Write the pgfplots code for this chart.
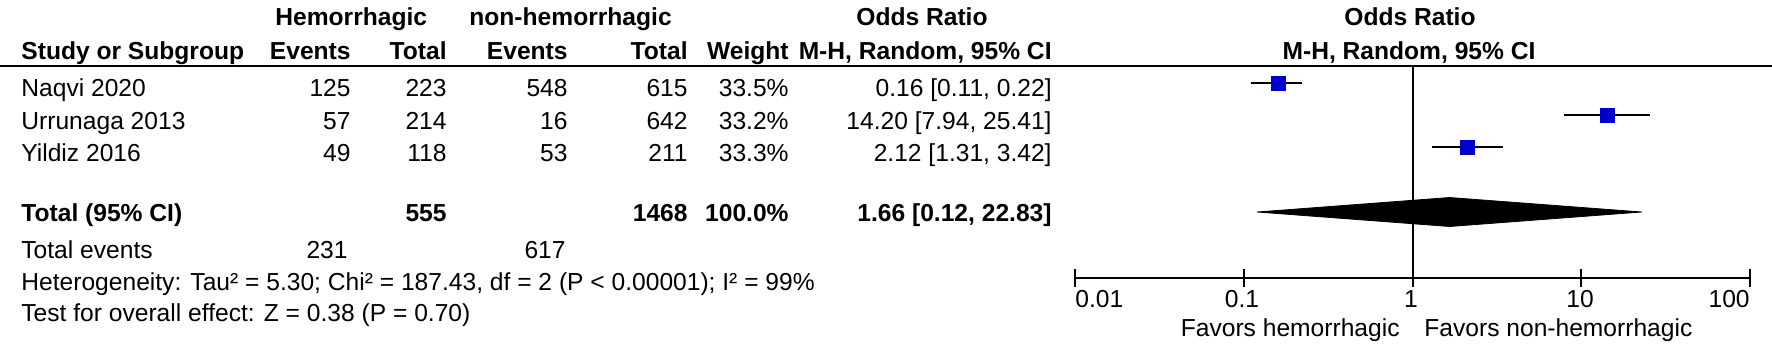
\documentclass[border=0pt]{standalone}
\usepackage{fontspec}
\setmainfont{Liberation Sans}
\usepackage{pgfplots}
\pgfplotsset{compat=1.18}
\definecolor{mk}{RGB}{0,0,204}
\begin{document}
\begin{tikzpicture}[font=\fontsize{12.3pt}{14pt}\selectfont]
\begin{axis}[
  at={(537.5pt,-139pt)}, anchor=south west,
  scale only axis, width=337.5pt, height=106pt,
  xmode=log, xmin=0.01, xmax=100,
  ymin=66, ymax=278, y dir=reverse,
  axis x line*=bottom, axis y line=none,
  xtick={0.01,0.1,1,10,100}, xticklabels={},
  xminorticks=false,
  tick align=center, major tick length=9pt,
  every tick/.style={black, line width=1pt},
  axis line style={black, line width=1.2pt},
  clip=false,
]
\addplot[black, line width=1pt] coordinates {(1,66) (1,278)};
\addplot[black, line width=1pt] coordinates {(0.11,83) (0.22,83)};
\addplot[black, line width=1pt] coordinates {(7.94,115) (25.41,115)};
\addplot[black, line width=1pt] coordinates {(1.31,147) (3.42,147)};
\addplot[only marks, mark=square*, mark size=3.5pt, color=mk] coordinates {(0.16,83) (14.20,115) (2.12,147)};
\addplot[fill=black, draw=black] coordinates {(0.12,212) (1.66,197.5) (22.83,212) (1.66,226.5) (0.12,212)};
\end{axis}
\begin{scope}[x=0.5pt,y=-0.5pt,every node/.style={inner sep=0pt}]
\path[use as bounding box] (0,0) rectangle (1772,359);
% header
\node[anchor=base west] at (275,25.5) {\bfseries Hemorrhagic};
\node[anchor=base west] at (469,25.5) {\bfseries non-hemorrhagic};
\node[anchor=base] at (922,25.5) {\bfseries Odds Ratio};
\node[anchor=base] at (1410,25.5) {\bfseries Odds Ratio};
\node[anchor=base west] at (21,59.5) {\bfseries Study or Subgroup};
\node[anchor=base east] at (351,59.5) {\bfseries Events};
\node[anchor=base east] at (447,59.5) {\bfseries Total};
\node[anchor=base east] at (568,59.5) {\bfseries Events};
\node[anchor=base east] at (688,59.5) {\bfseries Total};
\node[anchor=base east] at (789,59.5) {\bfseries Weight};
\node[anchor=base east] at (1052,59.5) {\bfseries M-H, Random, 95\% CI};
\node[anchor=base] at (1409,59.5) {\bfseries M-H, Random, 95\% CI};
\draw[line width=1.3pt] (0,66) -- (1772,66);
% rows
\node[anchor=base west] at (21,96.5) {Naqvi 2020};
\node[anchor=base east] at (351,96.5) {125};
\node[anchor=base east] at (447,96.5) {223};
\node[anchor=base east] at (568,96.5) {548};
\node[anchor=base east] at (688,96.5) {615};
\node[anchor=base east] at (789,96.5) {33.5\%};
\node[anchor=base east] at (1052,96.5) {0.16 [0.11, 0.22]};
\node[anchor=base west] at (21,129.5) {Urrunaga 2013};
\node[anchor=base east] at (351,129.5) {57};
\node[anchor=base east] at (447,129.5) {214};
\node[anchor=base east] at (568,129.5) {16};
\node[anchor=base east] at (688,129.5) {642};
\node[anchor=base east] at (789,129.5) {33.2\%};
\node[anchor=base east] at (1052,129.5) {14.20 [7.94, 25.41]};
\node[anchor=base west] at (21,161.5) {Yildiz 2016};
\node[anchor=base east] at (351,161.5) {49};
\node[anchor=base east] at (447,161.5) {118};
\node[anchor=base east] at (568,161.5) {53};
\node[anchor=base east] at (688,161.5) {211};
\node[anchor=base east] at (789,161.5) {33.3\%};
\node[anchor=base east] at (1052,161.5) {2.12 [1.31, 3.42]};
% total
\node[anchor=base west] at (21,221.5) {\bfseries Total (95\% CI)};
\node[anchor=base east] at (447,221.5) {\bfseries 555};
\node[anchor=base east] at (688,221.5) {\bfseries 1468};
\node[anchor=base east] at (789,221.5) {\bfseries 100.0\%};
\node[anchor=base east] at (1052,221.5) {\bfseries 1.66 [0.12, 22.83]};
\node[anchor=base west] at (21,258.5) {Total events};
\node[anchor=base east] at (348,258.5) {231};
\node[anchor=base east] at (566,258.5) {617};
\node[anchor=base west] at (21,290.5) {Heterogeneity: Tau² = 5.30; Chi² = 187.43, df = 2 (P < 0.00001); I² = 99\%};
\node[anchor=base west] at (21,321.5) {Test for overall effect: Z = 0.38 (P = 0.70)};
% axis labels
\node[anchor=base west] at (1075,307.5) {0.01};
\node[anchor=base] at (1242,307.5) {0.1};
\node[anchor=base] at (1411,307.5) {1};
\node[anchor=base] at (1580,307.5) {10};
\node[anchor=base east] at (1750,307.5) {100};
\node[anchor=base east] at (1400,336.5) {Favors hemorrhagic};
\node[anchor=base west] at (1424,336.5) {Favors non-hemorrhagic};
\end{scope}
\end{tikzpicture}
\end{document}
